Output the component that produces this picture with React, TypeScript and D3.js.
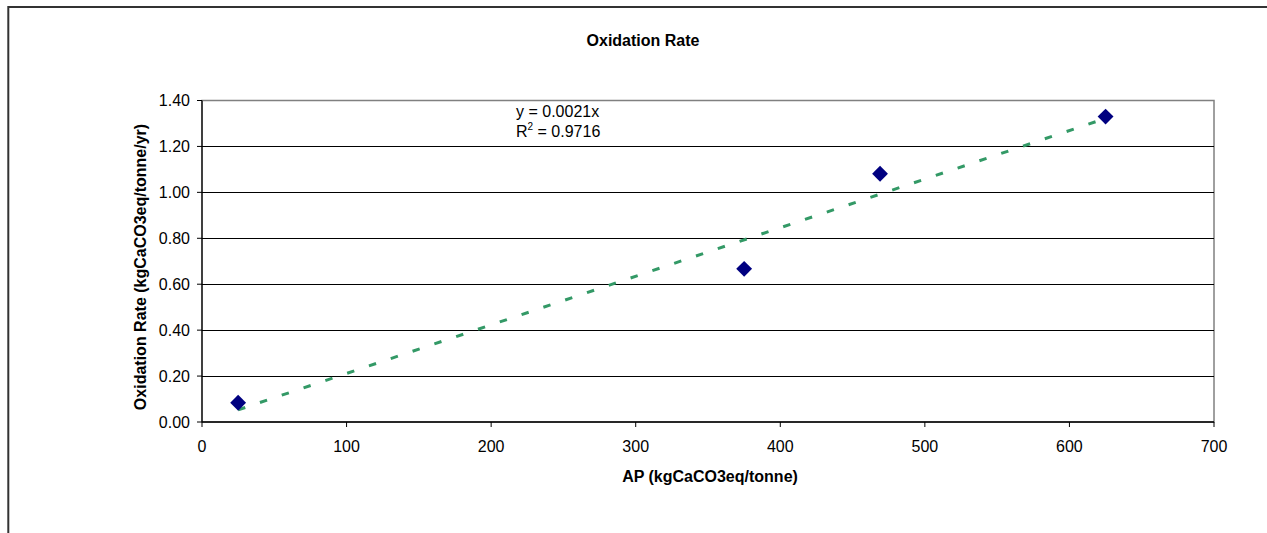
import React from "react";
import * as d3 from "d3";

const apValues = [25, 375, 469, 625];
const oxidationRates = [0.084, 0.667, 1.081, 1.33];
const xTicks = [0, 100, 200, 300, 400, 500, 600, 700];
const yTicks = [0, 0.2, 0.4, 0.6, 0.8, 1.0, 1.2, 1.4];
const equationLabel = "y = 0.0021x";
const r2Value = "0.9716";
const chartTitle = "Oxidation Rate";
const xAxisTitle = "AP (kgCaCO3eq/tonne)";
const yAxisTitle = "Oxidation Rate (kgCaCO3eq/tonne/yr)";

const W = 1267;
const H = 533;
const plot = { left: 202, right: 1214, top: 100.5, bottom: 422 };
const FONT = "Arial, 'Liberation Sans', Helvetica, sans-serif";

export default function App() {
  const x = d3.scaleLinear().domain([0, 700]).range([plot.left, plot.right]);
  const y = d3.scaleLinear().domain([0, 1.4]).range([plot.bottom, plot.top]);
  const fmt = d3.format(".2f");

  // least squares through origin (matches Excel trendline with intercept 0)
  const sxy = d3.sum(apValues.map((v, i) => v * oxidationRates[i]));
  const sxx = d3.sum(apValues.map((v) => v * v));
  const slope = sxy / sxx;
  const xMin = d3.min(apValues) as number;
  const xMax = d3.max(apValues) as number;
  const trend = d3.line<number>().x((d) => x(d)).y((d) => y(slope * d))([xMin, xMax]) as string;

  const diamond = d3.symbol().type(d3.symbolDiamond2).size(160)() as string;

  return (
    <svg
      width={W}
      height={H}
      style={{ position: "absolute", left: 0, top: 0, background: "#fff" }}
      fontFamily={FONT}
    >
      <rect x={0} y={0} width={W} height={H} fill="#fff" />
      <rect x={8.3} y={7} width={1400} height={700} fill="none" stroke="#333" strokeWidth={2} />

      <text x={643} y={45.5} textAnchor="middle" fontWeight="bold" fontSize={16}>
        {chartTitle}
      </text>

      {/* plot area */}
      <rect
        x={plot.left}
        y={plot.top}
        width={plot.right - plot.left}
        height={plot.bottom - plot.top}
        fill="#fff"
        stroke="#808080"
        strokeWidth={1.5}
      />
      {yTicks.slice(1, -1).map((t) => (
        <line
          key={"g" + t}
          x1={plot.left}
          x2={plot.right}
          y1={Math.round(y(t)) + 0.5}
          y2={Math.round(y(t)) + 0.5}
          stroke="#000"
          strokeWidth={1}
        />
      ))}

      {/* axes */}
      <line x1={plot.left} x2={plot.left} y1={plot.top} y2={plot.bottom} stroke="#000" strokeWidth={1.2} />
      <line x1={plot.left} x2={plot.right} y1={plot.bottom} y2={plot.bottom} stroke="#000" strokeWidth={1.5} />
      {yTicks.map((t) => (
        <g key={"y" + t}>
          <line x1={plot.left - 5} x2={plot.left} y1={y(t)} y2={y(t)} stroke="#000" strokeWidth={1} />
          <text x={190} y={y(t)} dy="0.36em" textAnchor="end" fontSize={16}>
            {fmt(t)}
          </text>
        </g>
      ))}
      {xTicks.map((t) => (
        <g key={"x" + t}>
          <line x1={x(t)} x2={x(t)} y1={plot.bottom} y2={plot.bottom + 5} stroke="#000" strokeWidth={1} />
          <text x={x(t)} y={452} textAnchor="middle" fontSize={16}>
            {t}
          </text>
        </g>
      ))}

      <text x={710} y={482} textAnchor="middle" fontWeight="bold" fontSize={16}>
        {xAxisTitle}
      </text>
      <text
        transform="translate(146,267) rotate(-90)"
        textAnchor="middle"
        fontWeight="bold"
        fontSize={16}
      >
        {yAxisTitle}
      </text>

      {/* trendline */}
      <path d={trend} fill="none" stroke="#339966" strokeWidth={3} strokeDasharray="7.5 15.5" />

      {/* points */}
      {apValues.map((v, i) => (
        <path key={"p" + i} d={diamond} transform={`translate(${x(v)},${y(oxidationRates[i])})`} fill="#000080" />
      ))}

      {/* equation */}
      <text x={516} y={116.5} fontSize={16}>
        {equationLabel}
      </text>
      <text x={516} y={137} fontSize={16}>
        R<tspan fontSize={10} dy={-7}>2</tspan>
        <tspan dy={7}>{" = " + r2Value}</tspan>
      </text>
    </svg>
  );
}
